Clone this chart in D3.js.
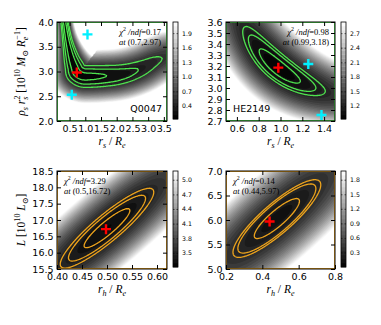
<!DOCTYPE html>
<html>
<head>
<meta charset="utf-8">
<script src="https://cdn.jsdelivr.net/npm/d3@7"></script>
<style>
  body { margin: 0; background: #fff; }
  svg { display: block; }
  text { font-family: "DejaVu Sans", sans-serif; fill: #000; }
  .math { font-family: "Liberation Serif", "DejaVu Serif", serif; }
</style>
</head>
<body>
<svg id="chart" width="381" height="325"></svg>
<script>
// ---- values ----
const panelNames = ["Q0047", "HE2149", "", ""];
const bestFit = [[0.73, 2.98], [0.98, 3.185], [0.498, 16.72], [0.44, 5.97]];
const minChi = [0.17, 0.98, 3.29, 0.14];
const fitText = [["0.17", "(0.7,2.97)"], ["0.98", "(0.99,3.18)"], ["3.29", "(0.5,16.72)"], ["0.14", "(0.44,5.97)"]];
const xDomains = [[0.1, 3.6], [0.5, 1.5], [0.4, 0.62], [0.2, 0.8]];
const yDomains = [[2.0, 4.0], [2.7, 3.6], [15.5, 18.5], [5.0, 7.0]];
const xTicks = [[0.5, 1.0, 1.5, 2.0, 2.5, 3.0, 3.5], [0.6, 0.8, 1.0, 1.2, 1.4], [0.40, 0.45, 0.50, 0.55, 0.60], [0.2, 0.4, 0.6, 0.8]];
const yTicks = [[2.0, 2.5, 3.0, 3.5, 4.0], [2.7, 2.8, 2.9, 3.0, 3.1, 3.2, 3.3, 3.4, 3.5, 3.6], [15.5, 16.0, 16.5, 17.0, 17.5, 18.0, 18.5], [5.0, 5.5, 6.0, 6.5, 7.0]];
const xFmt = [".1f", ".1f", ".2f", ".1f"];
const cbDomains = [[0.13, 2.13], [0.93, 2.93], [3.21, 5.18], [0.0, 1.98]];
const cbTicks = [[0.4, 0.7, 1.0, 1.3, 1.6, 1.9], [1.2, 1.5, 1.8, 2.1, 2.4, 2.7], [3.5, 3.8, 4.1, 4.4, 4.7, 5.0], [0.3, 0.6, 0.9, 1.2, 1.5, 1.8]];
const cyanPoints = [[[1.07, 3.75], [0.57, 2.53]], [[1.255, 3.218], [1.376, 2.755]], [], []];

// chi2 contour levels, as a fraction of the outer contour's rise above the minimum
const contourFrac = [[0.12, 0.5, 1], [0.25, 0.67, 1], [0.24, 0.68, 1], [0.265, 0.79, 1]];
const outerRise = [0.33, 0.23, 0.21, 0.2];

// Q0047 valley floor (banana shaped minimum)
const valleyX = [0.33, 0.41, 0.49, 0.57, 0.65, 0.73, 0.9, 1.2, 1.6, 2.0, 2.4, 2.8, 3.2, 3.6];
const valleyY = [4.05, 3.7, 3.45, 3.25, 3.1, 2.98, 2.91, 2.90, 2.91, 2.93, 2.98, 3.07, 3.2, 3.32];

// elliptical minima of the other three panels
const ellCentre = [null, [0.98, 3.185], [0.50, 16.75], [0.48, 6.03]];

// ---- layout / surface shape (screen pixels) ----
const boxes = [
  { x: 57, y: 22, w: 110, h: 99 },
  { x: 226, y: 22, w: 109, h: 99 },
  { x: 57, y: 171, w: 110, h: 98 },
  { x: 226, y: 171, w: 109, h: 98 }
];
const ellShape = [null,
  { A: 52, B: 13, ang: 39, bend: -0.0035 },
  { A: 60, B: 13.4, ang: -40, bend: 0 },
  { A: 56.7, B: 15, ang: -41, bend: 0 }];
const valleyShape = { pTop: 3.8, pMain: 11, sLeft: 400, sRight: 90 };
const lineColors = ["#4ee24e", "#4ee24e", "#eba21c", "#eba21c"];
const nBands = 24;

const svg = d3.select("#chart");
const gray = f => { const g = Math.round(255 * Math.max(0, Math.min(1, f))); return d3.rgb(g, g, g).formatHex(); };

function mathText(sel, parts, fs) {
  const t = sel.append("text").attr("class", "math").style("font-size", fs + "px");
  let cur = 0;
  parts.forEach(p => {
    const lvl = p.s === "sub" ? 0.3 * fs : p.s === "sup" ? -0.42 * fs : 0;
    const ts = t.append("tspan").text(p.t)
      .attr("dy", lvl - cur)
      .style("font-size", (p.s ? 0.7 * fs : fs) + "px")
      .style("font-style", p.i ? "italic" : "normal");
    if (p.dx) ts.attr("dx", p.dx);
    cur = lvl;
  });
  return t;
}

boxes.forEach((b, k) => {
  const xs = d3.scaleLinear(xDomains[k], [b.x, b.x + b.w]);
  const ys = d3.scaleLinear(yDomains[k], [b.y + b.h, b.y]);
  const lo = cbDomains[k][0], hi = cbDomains[k][1];
  const rise = outerRise[k];

  // chi2/ndf surface on a one-pixel grid
  const values = new Float64Array(b.w * b.h);
  if (k === 0) {
    const vp = svg.append("path")
      .attr("d", d3.line().curve(d3.curveCatmullRom)(valleyX.map((v, i) => [xs(v), ys(valleyY[i])])))
      .attr("fill", "none").attr("stroke", "none");
    const node = vp.node(), L = node.getTotalLength();
    const samples = d3.range(0, L, 0.5).map(l => { const p = node.getPointAtLength(l); return [p.x, p.y, l]; });
    const bx = xs(bestFit[k][0]), by = ys(bestFit[k][1]);
    const sBest = d3.least(samples, s => (s[0] - bx) ** 2 + (s[1] - by) ** 2)[2];
    const vs = valleyShape;
    for (let j = 0; j < b.h; j++) for (let i = 0; i < b.w; i++) {
      const px = b.x + i + 0.5, py = b.y + j + 0.5;
      let best = Infinity, sl = 0;
      for (const s of samples) {
        const d = (s[0] - px) ** 2 + (s[1] - py) ** 2;
        if (d < best) { best = d; sl = s[2]; }
      }
      const sr = sl - sBest;
      const t = sr < 0 ? Math.max(0, 1 + sr / sBest) : 1;
      const P = vs.pTop + (vs.pMain - vs.pTop) * t * t;
      const S = sr < 0 ? vs.sLeft : vs.sRight;
      values[j * b.w + i] = minChi[k] + rise * ((sr / S) ** 2 + best / (P * P));
    }
    vp.remove();
  } else {
    const e = ellShape[k];
    const cx = xs(ellCentre[k][0]), cy = ys(ellCentre[k][1]);
    const ca = Math.cos(e.ang * Math.PI / 180), sa = Math.sin(e.ang * Math.PI / 180);
    for (let j = 0; j < b.h; j++) for (let i = 0; i < b.w; i++) {
      const dx = b.x + i + 0.5 - cx, dy = b.y + j + 0.5 - cy;
      const u = dx * ca + dy * sa, v = -dx * sa + dy * ca;
      const w = v - e.bend * u * u;
      values[j * b.w + i] = minChi[k] + rise * ((u / e.A) ** 2 + (w / e.B) ** 2);
    }
  }

  const clipId = "clip" + k;
  svg.append("clipPath").attr("id", clipId).append("rect")
    .attr("x", 0).attr("y", 0).attr("width", b.w).attr("height", b.h);
  const g = svg.append("g").attr("transform", `translate(${b.x},${b.y})`).attr("clip-path", `url(#${clipId})`);
  const path = d3.geoPath();

  // filled bands, lightest on top, white above the colour bar range
  const step = (hi - lo) / nBands;
  const levels = d3.range(nBands + 1).map(n => lo + n * step);
  const filled = d3.contours().size([b.w, b.h]).thresholds(levels)(values);
  g.selectAll("path.band").data(filled).join("path")
    .attr("class", "band")
    .attr("d", path)
    .attr("fill", (d, n) => n === nBands ? "#fff" : gray((n + 0.5) / nBands));

  // confidence contours
  const lines = d3.contours().size([b.w, b.h]).thresholds(contourFrac[k].map(f => minChi[k] + rise * f))(values);
  g.selectAll("path.cl").data(lines).join("path")
    .attr("class", "cl")
    .attr("d", path)
    .attr("fill", "none")
    .attr("stroke", lineColors[k])
    .attr("stroke-width", 1.3);

  // markers
  const cross = "M-5,0H5M0,-5V5";
  const mk = svg.append("g");
  mk.selectAll("path.cyan").data(cyanPoints[k]).join("path")
    .attr("class", "cyan")
    .attr("d", cross)
    .attr("transform", d => `translate(${xs(d[0])},${ys(d[1])})`)
    .attr("stroke", "#00f0ff").attr("stroke-width", 2.4);
  mk.append("path")
    .attr("d", cross)
    .attr("transform", `translate(${xs(bestFit[k][0])},${ys(bestFit[k][1])})`)
    .attr("stroke", "#ff0000").attr("stroke-width", 2.4);

  // frame and ticks
  svg.append("rect").attr("x", b.x).attr("y", b.y).attr("width", b.w).attr("height", b.h)
    .attr("fill", "none").attr("stroke", "#000").attr("stroke-width", 1);

  const styleAxis = a => {
    a.select(".domain").remove();
    a.selectAll("line").attr("stroke", "#000");
    a.selectAll("text").style("font-size", "9.5px").style("font-family", "'DejaVu Sans', sans-serif");
  };
  svg.append("g").attr("transform", `translate(0,${b.y + b.h})`)
    .call(d3.axisBottom(xs).tickValues(xTicks[k]).tickFormat(d3.format(xFmt[k])).tickSize(-4).tickPadding(4))
    .call(styleAxis);
  svg.append("g").attr("transform", `translate(0,${b.y})`)
    .call(d3.axisTop(xs).tickValues(xTicks[k]).tickFormat("").tickSize(-4))
    .call(styleAxis);
  svg.append("g").attr("transform", `translate(${b.x},0)`)
    .call(d3.axisLeft(ys).tickValues(yTicks[k]).tickFormat(d3.format(".1f")).tickSize(-4).tickPadding(3.5))
    .call(styleAxis);
  svg.append("g").attr("transform", `translate(${b.x + b.w},0)`)
    .call(d3.axisRight(ys).tickValues(yTicks[k]).tickFormat("").tickSize(-4))
    .call(styleAxis);

  // colour bar
  const cb = { x: b.x + b.w + 6, y: b.y, w: 5, h: b.h - 2 };
  const cs = d3.scaleLinear(cbDomains[k], [cb.y + cb.h, cb.y]);
  svg.append("g").selectAll("rect").data(d3.range(nBands)).join("rect")
    .attr("x", cb.x).attr("width", cb.w)
    .attr("y", n => cs(levels[n + 1]))
    .attr("height", n => cs(levels[n]) - cs(levels[n + 1]) + 0.3)
    .attr("fill", n => gray((n + 0.5) / nBands));
  svg.append("rect").attr("x", cb.x).attr("y", cb.y).attr("width", cb.w).attr("height", cb.h)
    .attr("fill", "none").attr("stroke", "#000").attr("stroke-width", 0.8);
  svg.append("g").attr("transform", `translate(${cb.x + cb.w},0)`)
    .call(d3.axisRight(cs).tickValues(cbTicks[k]).tickFormat(d3.format(".1f")).tickSize(-1.5).tickPadding(4))
    .call(a => {
      a.select(".domain").remove();
      a.selectAll("line").attr("stroke", "#000").attr("stroke-width", 0.6);
      a.selectAll("text").style("font-size", "6.2px");
    });
  svg.append("g").attr("transform", `translate(${cb.x},0)`)
    .call(d3.axisLeft(cs).tickValues(cbTicks[k]).tickFormat("").tickSize(-1.5))
    .call(a => { a.select(".domain").remove(); a.selectAll("line").attr("stroke", "#000").attr("stroke-width", 0.6); });

  // fit annotation
  const right = k < 2;
  const ax = right ? b.x + b.w - 6 : b.x + 7;
  const ann = svg.append("g").attr("transform", `translate(${ax},${b.y + 13})`);
  mathText(ann, [{ t: "χ", i: 1 }, { t: "2", s: "sup" }, { t: " /ndf", i: 1 }, { t: "=" + fitText[k][0] }], 8.5)
    .attr("text-anchor", right ? "end" : "start");
  mathText(ann.append("g").attr("transform", "translate(0,9.5)"), [{ t: "at", i: 1 }, { t: " " + fitText[k][1] }], 8.5)
    .attr("text-anchor", right ? "end" : "start");

  // object name
  if (panelNames[k]) {
    svg.append("text")
      .attr("x", k === 0 ? b.x + b.w - 5 : b.x + 7)
      .attr("y", b.y + b.h - 9)
      .attr("text-anchor", k === 0 ? "end" : "start")
      .style("font-size", "9.5px")
      .text(panelNames[k]);
  }

  // x label
  const sub = k < 2 ? "s" : "h";
  mathText(svg.append("g").attr("transform", `translate(${b.x + b.w / 2},${b.y + b.h + 24})`),
    [{ t: "r", i: 1 }, { t: sub, i: 1, s: "sub" }, { t: " / " }, { t: "R", i: 1 }, { t: "e", i: 1, s: "sub" }], 11.5)
    .attr("text-anchor", "middle");
});

// y labels
mathText(svg.append("g").attr("transform", `translate(25,${boxes[0].y + boxes[0].h / 2}) rotate(-90)`),
  [{ t: "ρ", i: 1 }, { t: "s", i: 1, s: "sub" }, { t: " r", i: 1 }, { t: "s", i: 1, s: "sub" }, { t: "2", s: "sup", dx: -3 },
   { t: " [10" }, { t: "10", s: "sup" }, { t: " M", i: 1 }, { t: "⊙", s: "sub" }, { t: " R", i: 1 }, { t: "e", i: 1, s: "sub" },
   { t: "−1", s: "sup", dx: -3 }, { t: "]" }], 11.5)
  .attr("text-anchor", "middle");
mathText(svg.append("g").attr("transform", `translate(25,${boxes[2].y + boxes[2].h / 2}) rotate(-90)`),
  [{ t: "L", i: 1 }, { t: " [10" }, { t: "10", s: "sup" }, { t: " L", i: 1 }, { t: "⊙", s: "sub" }, { t: "]" }], 11.5)
  .attr("text-anchor", "middle");
</script>
</body>
</html>
